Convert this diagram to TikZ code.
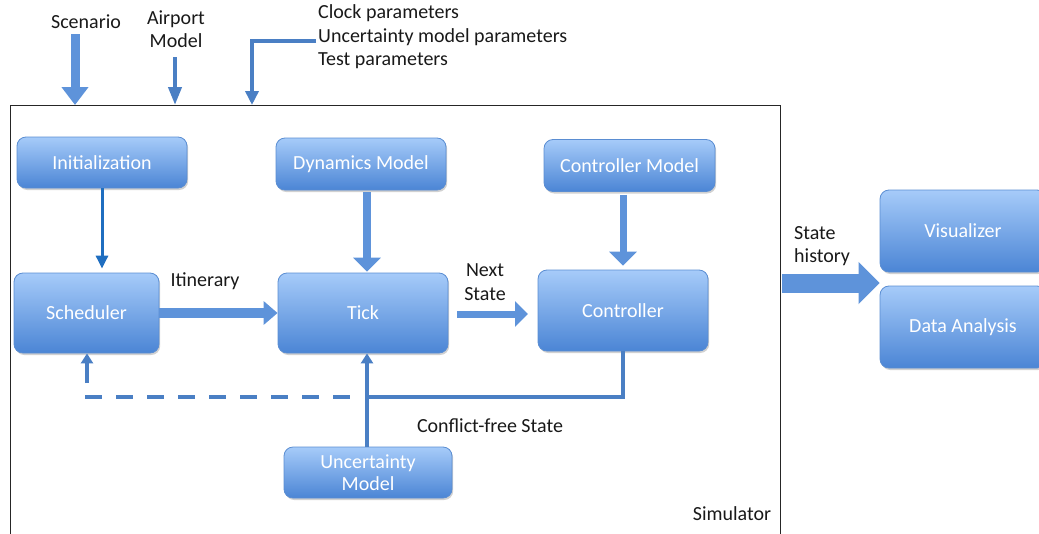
\documentclass[tikz,border=0pt]{standalone}
\usepackage{fontspec}
\setmainfont{Carlito}
\usetikzlibrary{arrows.meta,shadows}
\definecolor{boxtop}{HTML}{A6CBF9}
\definecolor{boxbot}{HTML}{4B85D5}
\definecolor{boxdraw}{HTML}{5A8DD2}
\definecolor{arrowcol}{HTML}{5E93DA}
\definecolor{linecol}{HTML}{4A7FC4}
\definecolor{darkline}{HTML}{1F6EC0}
\begin{document}
\begin{tikzpicture}[x=1pt,y=-1pt,
  font=\fontsize{20}{23.5}\selectfont,
  box/.style={rounded corners=9pt, top color=boxtop, bottom color=boxbot,
    draw=boxdraw, line width=0.8pt, text=white, inner sep=0pt, align=center,
    drop shadow={shadow xshift=1.2pt,shadow yshift=-2pt,opacity=0.3,fill=black!60}},
  lbl/.style={inner sep=0pt, text=black!90},
  barrow/.style n args={3}{draw=arrowcol, line width=#1, -{Triangle[width=#2,length=#3]}},
  conn/.style={draw=linecol, line width=3.5pt},
]
\useasboundingbox (0,0) rectangle (1039,533);
\clip (0,0) rectangle (1039,533);

% simulator frame
\node[draw=black!85, line width=1pt, minimum width=770pt, minimum height=440pt,
  anchor=north west, inner sep=0pt] (sim) at (10,105) {};

% boxes
\node[box, minimum width=170pt, minimum height=51pt] (init) at (102,162.5) {Initialization};
\node[box, minimum width=145pt, minimum height=80pt] (sched) at (86.5,313) {Scheduler};
\node[box, minimum width=170pt, minimum height=52pt] (dyn) at (361,164) {Dynamics Model};
\node[box, minimum width=170pt, minimum height=80pt] (tick) at (363,313) {Tick};
\node[box, minimum width=171pt, minimum height=52pt] (cm) at (629.5,165.5) {Controller Model};
\node[box, minimum width=170pt, minimum height=81pt] (ctrl) at (623,310.5) {Controller};
\node[box, minimum width=168pt, minimum height=51pt] (unc) at (368,472.5) {Uncertainty\\[-1.5pt]Model};
\node[box, minimum width=166pt, minimum height=82pt] (viz) at (963,231) {Visualizer};
\node[box, minimum width=166pt, minimum height=82pt] (da) at (963,327) {Data Analysis};

% labels
\node[lbl] (scen) at (86,22) {Scenario};
\node[lbl, align=center] (air) at (176,29) {Airport\\Model};
\node[lbl, align=left, anchor=west] (clk) at (318,37) {Clock parameters\\Uncertainty model parameters\\Test parameters};
\node[lbl] (itin) at (205,281) {Itinerary};
\node[lbl, align=center] (next) at (485,282) {Next\\State};
\node[lbl] (cfs) at (490,426) {Conflict-free State};
\node[lbl] (simlbl) at (732,514) {Simulator};
\node[lbl, align=left, anchor=west] (sh) at (794,246) {State\\history};

% coordinates
\coordinate (scA) at (75,34);
\coordinate (apA) at (175,57);
\coordinate (ckA) at (316,41);
\coordinate (ckB) at (252,41);
\coordinate (cx) at (367,0);
\coordinate (j) at (367,397);
\coordinate (dA) at (355,397);
\coordinate (dB) at (85,397);
\coordinate (sa) at (87,383);
\coordinate (shA) at (782,283);
\coordinate (nsA) at (457,314);
\coordinate (nsB) at (528,314);

% input arrows
\draw[barrow={9pt}{26pt}{18pt}] (scA) -- (scA |- sim.north);
\draw[conn, line width=4pt, -{Triangle[width=13pt,length=18pt]}] (apA) -- (apA |- sim.north);
\draw[conn, line width=4pt, -{Triangle[width=13pt,length=14pt]}] (ckA) -- (ckB) -- (ckB |- sim.north);

% internal arrows
\draw[draw=darkline, line width=3pt, -{Triangle[width=12pt,length=13pt]}, shorten >=4pt] (init.south) -- (init.south |- sched.north);
\draw[barrow={10pt}{23pt}{14pt}] (sched.east) -- (tick.west);
\draw[barrow={8pt}{27pt}{14pt}, shorten <=2pt, shorten >=1pt] (dyn.south -| cx) -- (tick.north -| cx);
\draw[barrow={7pt}{27pt}{14pt}, shorten <=3pt, shorten >=4pt] (cm.south -| ctrl.south) -- (ctrl.north);
\draw[barrow={7pt}{25pt}{13pt}] (nsA) -- (nsB);
\draw[barrow={19pt}{41pt}{21pt}] (shA) -- (viz.south west |- shA);

% feedback lines
\draw[conn] (ctrl.south) -- (ctrl.south |- j) -- (j);
\draw[conn, -{Triangle[width=12pt,length=10pt]}] (unc.north -| cx) -- (tick.south -| cx);
\draw[conn, dash pattern=on 17pt off 14pt] (dB) -- (dA);
\draw[conn, -{Triangle[width=12pt,length=10pt]}] (sa) -- (sched.south -| sa);
\end{tikzpicture}
\end{document}
